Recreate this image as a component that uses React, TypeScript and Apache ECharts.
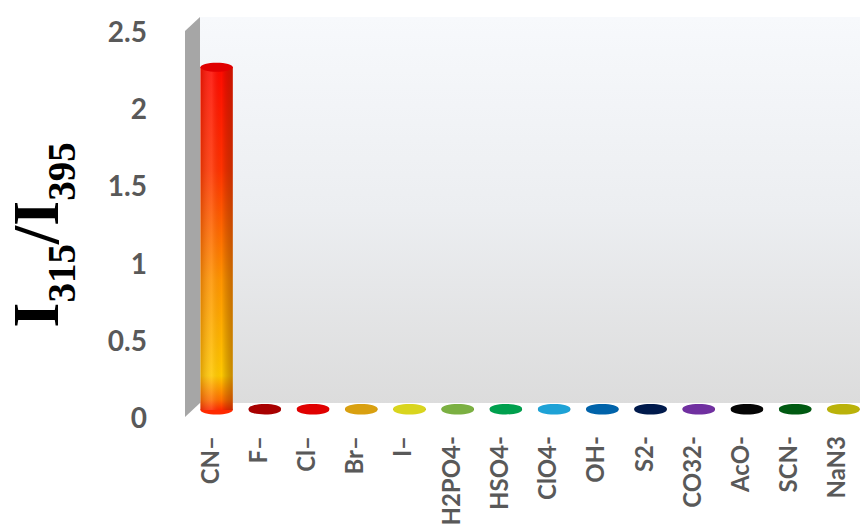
import React, { useEffect, useRef } from "react";
import * as echarts from "echarts";

const categories = ["CN–", "F–", "Cl–", "Br–", "I–", "H2PO4-", "HSO4-", "ClO4-", "OH-", "S2-", "CO32-", "AcO-", "SCN-", "NaN3"];
const values = [2.22, 0.01, 0.01, 0.01, 0.01, 0.01, 0.01, 0.01, 0.01, 0.01, 0.01, 0.01, 0.01, 0.01];
const barColors = ["#ff1a00", "#a80000", "#e00000", "#d9a010", "#d9d51e", "#7bb042", "#00a04e", "#1ea2d6", "#0063aa", "#001a4c", "#7030a0", "#050505", "#005a12", "#bab20a"];
const yMin = 0;
const yMax = 2.5;
const yInterval = 0.5;

const DX = 15;
const DY = 14;

export default function App() {
  const ref = useRef<HTMLDivElement>(null);
  useEffect(() => {
    if (!ref.current) return;
    const chart = echarts.init(ref.current, undefined, { renderer: "svg" });
    const labelFont = "Lato, 'Open Sans', sans-serif";
    const serif = "'Liberation Serif', 'Times New Roman', serif";
    const option: any = {
      animation: false,
      backgroundColor: "#ffffff",
      grid: { left: 185, right: 8, top: 31, bottom: 115, containLabel: false, outerBoundsMode: "none" },
      xAxis: {
        type: "category",
        data: categories,
        axisLine: { show: false },
        axisTick: { show: false },
        splitLine: { show: false },
        axisLabel: {
          rotate: 90,
          margin: 19,
          color: "#595959",
          fontFamily: labelFont,
          fontWeight: "bold",
          fontSize: 24,
          interval: 0,
        },
      },
      yAxis: {
        type: "value",
        min: yMin,
        max: yMax,
        interval: yInterval,
        axisLine: { show: false },
        axisTick: { show: false },
        splitLine: { show: false },
        axisLabel: {
          color: "#595959",
          fontFamily: labelFont,
          fontWeight: "bold",
          fontSize: 28,
          margin: 38,
        },
        name: "{i|I}{s|315}{i|/I}{s|395}",
        nameLocation: "middle",
        nameRotate: 90,
        nameGap: 104,
        nameTextStyle: {
          padding: [0, 22, 0, 0],
          rich: {
            i: { fontFamily: serif, fontWeight: "bold", fontSize: 65, color: "#000", lineHeight: 78, verticalAlign: "top" },
            s: { fontFamily: serif, fontWeight: "bold", fontSize: 39, color: "#000", lineHeight: 39, verticalAlign: "bottom" },
          },
        },
      },
      series: [
        {
          type: "custom",
          z: 1,
          silent: true,
          data: [[0, 0]],
          renderItem: (params: any, api: any) => {
            const cs = params.coordSys;
            const p0 = api.coord([0, yMin]);
            const p1 = api.coord([0, yMax]);
            const left = cs.x;
            const bottom = p0[1];
            const top = p1[1];
            return {
              type: "group",
              children: [
                {
                  type: "rect",
                  shape: { x: left + DX, y: top - DY, width: cs.width + DX, height: bottom - top },
                  style: {
                    fill: new echarts.graphic.LinearGradient(0, 0, 0, 1, [
                      { offset: 0, color: "#f7f9fc" },
                      { offset: 0.5, color: "#eceef1" },
                      { offset: 1, color: "#dcdcdc" },
                    ]),
                  },
                },
                {
                  type: "polygon",
                  shape: { points: [[left, bottom], [left, top], [left + DX, top - DY], [left + DX, bottom - DY]] },
                  style: { fill: "#a6a6a6" },
                },
              ],
            };
          },
        },
        {
          type: "custom",
          z: 2,
          data: values.map((v, i) => [i, v]),
          encode: { x: 0, y: 1 },
          renderItem: (params: any, api: any) => {
            const i = api.value(0);
            const v = api.value(1);
            const base = api.coord([i, 0]);
            const tp = api.coord([i, v]);
            const cx = base[0] + DX / 2;
            const yb = base[1] - DY / 2;
            const yt = tp[1] - DY / 2;
            const w = api.size([1, 0])[0] * 0.67;
            const rx = w / 2;
            const ry = 4.5;
            const color = barColors[i];
            const tall = v > 0.1;
            const bodyFill = tall
              ? new echarts.graphic.LinearGradient(0, 0, 0, 1, [
                  { offset: 0, color: "#ff0a00" },
                  { offset: 0.3, color: "#ff3300" },
                  { offset: 0.62, color: "#ff9400" },
                  { offset: 0.9, color: "#ffc800" },
                  { offset: 0.97, color: "#ff7000" },
                  { offset: 1, color: "#ff2a00" },
                ])
              : color;
            return {
              type: "group",
              children: [
                {
                  type: "ellipse",
                  shape: { cx, cy: yb, rx, ry },
                  style: { fill: tall ? "#ff2a00" : color },
                },
                {
                  type: "rect",
                  shape: { x: cx - rx, y: yt, width: w, height: Math.max(0, yb - yt) },
                  style: { fill: bodyFill },
                },
                {
                  type: "rect",
                  shape: { x: cx - rx, y: yt, width: w, height: Math.max(0, yb - yt) },
                  style: {
                    fill: new echarts.graphic.LinearGradient(0, 0, 1, 0, [
                      { offset: 0, color: "rgba(120,40,0,0.25)" },
                      { offset: 0.35, color: "rgba(255,255,255,0.12)" },
                      { offset: 0.65, color: "rgba(0,0,0,0)" },
                      { offset: 1, color: "rgba(120,40,0,0.4)" },
                    ]),
                  },
                },
                {
                  type: "ellipse",
                  shape: { cx, cy: yt, rx, ry },
                  style: { fill: tall ? "#e00000" : color },
                },
              ],
            };
          },
        },
      ],
    };
    chart.setOption(option);
    return () => chart.dispose();
  }, []);
  return <div ref={ref} style={{ width: 868, height: 532, margin: -8 }} />;
}
